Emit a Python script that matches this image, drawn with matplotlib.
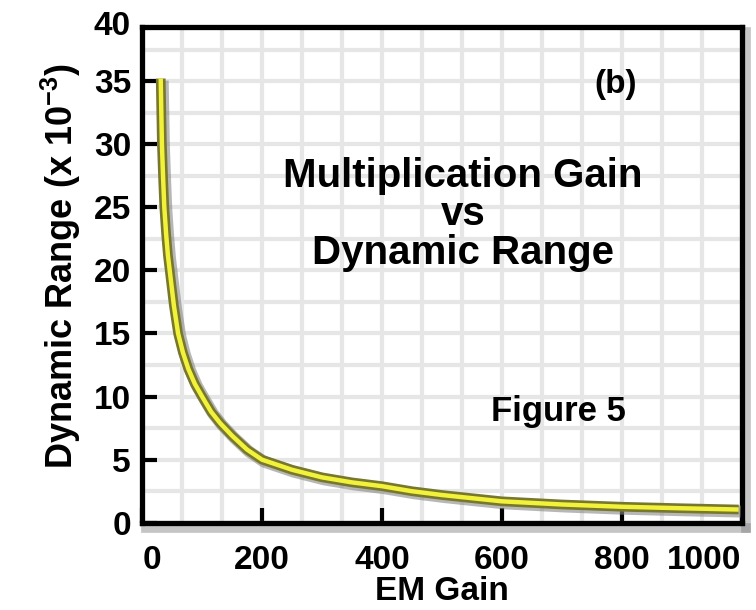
import matplotlib
matplotlib.use("Agg")
import matplotlib.pyplot as plt
import matplotlib.patheffects as pe
from matplotlib.ticker import MultipleLocator
import matplotlib.transforms as mtransforms

# ---- data ----
em_gain = [31, 32, 33, 35, 37, 40, 43, 47, 53, 60, 68, 77, 88, 100, 115, 130, 150, 175, 200,
           250, 300, 350, 400, 450, 500, 600, 700, 800, 900, 995]
dyn_range = [35.2, 32.5, 30.0, 27.3, 25.0, 22.9, 21.2, 19.6, 17.2, 15.0, 13.5, 12.2, 11.0, 10.0,
             8.8, 7.9, 6.9, 5.8, 5.0, 4.2, 3.6, 3.2, 2.9, 2.5, 2.2, 1.7, 1.45, 1.27, 1.15, 1.05]
x_ticks = [0, 200, 400, 600, 800, 1000]
y_ticks = [0, 5, 10, 15, 20, 25, 30, 35]

plt.rcParams['font.family'] = ['Liberation Sans', 'DejaVu Sans']
plt.rcParams['font.weight'] = 'bold'
plt.rcParams['mathtext.fontset'] = 'custom'
plt.rcParams['mathtext.rm'] = 'Liberation Sans:bold'
plt.rcParams['mathtext.bf'] = 'Liberation Sans:bold'
plt.rcParams['mathtext.default'] = 'bf'

fig = plt.figure(figsize=(7.56, 6.10), dpi=100)
ax = fig.add_axes([0.188, 0.143, 0.793, 0.813])
ax.set_xlim(0, 1000)
ax.set_ylim(0, 39.3)

# grid
ax.xaxis.set_minor_locator(MultipleLocator(1000 / 15))
ax.yaxis.set_minor_locator(MultipleLocator(2.5))
ax.grid(which='both', color='#e6e6e6', linewidth=3, zorder=0)
ax.set_axisbelow(True)
ax.tick_params(which='minor', length=0)

ax.set_xticks(x_ticks)
ax.set_yticks(y_ticks)
ax.tick_params(which='major', direction='in', length=11, width=3, color='black',
               labelsize=24)
ax.tick_params(axis='x', which='major', pad=16)
ax.tick_params(axis='y', which='major', pad=8)
for lab in ax.get_xticklabels():
    lab.set_fontweight('bold')
for lab in ax.get_yticklabels():
    lab.set_fontweight('bold')
xl = ax.get_xticklabels()
xl[0].set_horizontalalignment('left')
xl[-1].set_horizontalalignment('right')

# extra "40" label at the top
trans = mtransforms.blended_transform_factory(ax.transAxes, ax.transData)
ax.text(-0.02, 39.3, '40', transform=trans, ha='right', va='center',
        fontsize=24, fontweight='bold')

shadow = [pe.SimpleLineShadow(offset=(3, -4), shadow_color='#808080', alpha=0.45, linewidth=7),
          pe.Normal()]
for s in ax.spines.values():
    s.set_linewidth(3.8)
    s.set_color('black')
ax.spines['bottom'].set_path_effects(shadow)
ax.spines['right'].set_path_effects(shadow)

# curve
ax.plot(em_gain, dyn_range, color='#f2f23a', linewidth=3.2, solid_capstyle='butt',
        solid_joinstyle='round', zorder=3,
        path_effects=[pe.SimpleLineShadow(offset=(1.5, -1.5), shadow_color='#888888', alpha=0.6, linewidth=8.5),
                      pe.Stroke(linewidth=7, foreground='#77772e'),
                      pe.Normal()])

ax.set_xlabel('EM Gain', fontsize=24, fontweight='bold', labelpad=0)
ax.set_ylabel(r'Dynamic Range (x 10$^{-3}$)', fontsize=26, fontweight='bold', labelpad=8)
ax.yaxis.label.set_y(0.518)

ax.text(0.535, 0.622, 'Multiplication Gain\nvs\nDynamic Range', transform=ax.transAxes,
        ha='center', va='center', fontsize=29, fontweight='bold', linespacing=1.02)
ax.text(0.79, 0.883, '(b)', transform=ax.transAxes, ha='center', va='center',
        fontsize=24, fontweight='bold')
ax.text(0.695, 0.224, 'Figure 5', transform=ax.transAxes, ha='center', va='center',
        fontsize=25, fontweight='bold')

fig.savefig('out.png', dpi=100)
